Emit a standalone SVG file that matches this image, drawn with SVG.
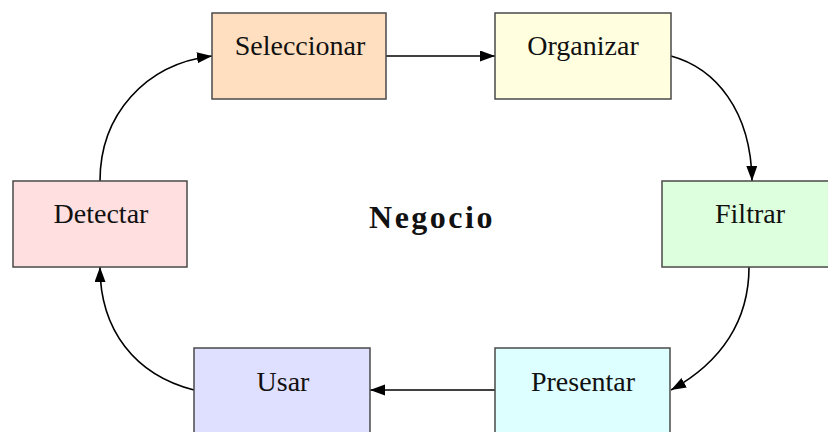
<svg xmlns="http://www.w3.org/2000/svg" width="828" height="432" viewBox="0 0 828 432">
<style>
.box{stroke:#4a4a4a;stroke-width:1.5}
.lbl{font-family:"Liberation Serif","Times New Roman",serif;font-size:28px;fill:#111;text-anchor:middle}
.edge{fill:none;stroke:#000;stroke-width:1.6}
</style>
<defs>
<marker id="ah" markerUnits="userSpaceOnUse" markerWidth="16" markerHeight="12" refX="15" refY="5.5" orient="auto">
<path d="M0,0 L15,5.5 L0,11 z" fill="#000"/>
</marker>
</defs>
<rect width="828" height="432" fill="#fff"/>
<g id="connectors">
<path class="edge" d="M386,56 L495,56" marker-end="url(#ah)"/>
<path class="edge" d="M671,56 C715,68 751,110 752,181" marker-end="url(#ah)"/>
<path class="edge" d="M749,267 C749,320 722,362 671,390" marker-end="url(#ah)"/>
<path class="edge" d="M495,390 L370,390" marker-end="url(#ah)"/>
<path class="edge" d="M194,390 C135,375 100,330 100,267" marker-end="url(#ah)"/>
<path class="edge" d="M100,181 C100,115 145,64 212,56" marker-end="url(#ah)"/>
</g>
<g id="seleccionar">
<rect class="box" x="212" y="13" width="174" height="86" fill="#ffdfc0"/>
<text class="lbl" x="300" y="55">Seleccionar</text>
</g>
<g id="organizar">
<rect class="box" x="495" y="13" width="176" height="86" fill="#ffffe0"/>
<text class="lbl" x="583" y="55">Organizar</text>
</g>
<g id="filtrar">
<rect class="box" x="662" y="181" width="176" height="86" fill="#ddffdd"/>
<text class="lbl" x="750" y="223">Filtrar</text>
</g>
<g id="presentar">
<rect class="box" x="495" y="348" width="175" height="90" fill="#ddffff"/>
<text class="lbl" x="583" y="391">Presentar</text>
</g>
<g id="usar">
<rect class="box" x="194" y="348" width="176" height="90" fill="#dfdfff"/>
<text class="lbl" x="283" y="391">Usar</text>
</g>
<g id="detectar">
<rect class="box" x="13" y="181" width="174" height="86" fill="#ffdfe0"/>
<text class="lbl" x="101" y="223">Detectar</text>
</g>
<g id="negocio">
<text x="432" y="228" font-family="'Liberation Serif','Times New Roman',serif" font-size="32" font-weight="bold" letter-spacing="2.5" text-anchor="middle" fill="#111">Negocio</text>
</g>
</svg>
